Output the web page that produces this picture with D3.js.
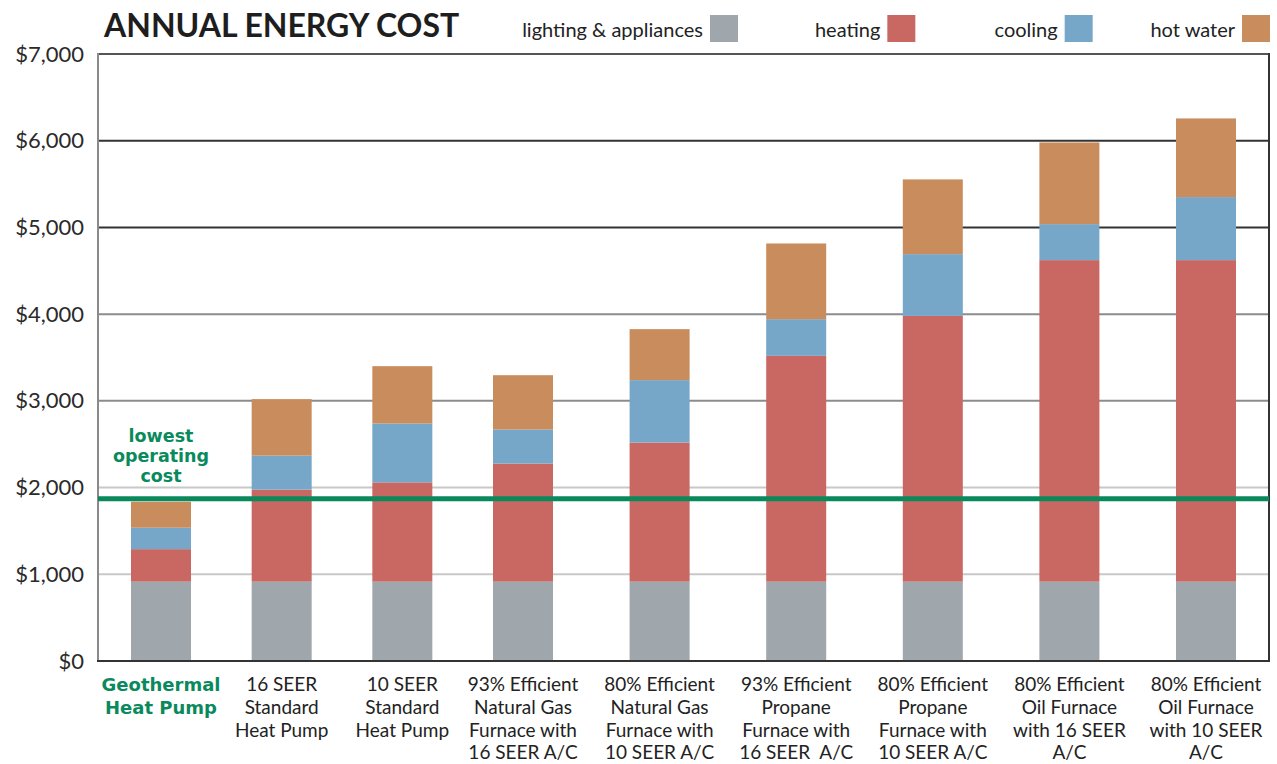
<!DOCTYPE html>
<html>
<head>
<meta charset="utf-8">
<script src="https://cdn.jsdelivr.net/npm/d3@7"></script>
<style>
  html, body { margin: 0; padding: 0; background: #fff; }
  svg { display: block; }
  text { white-space: pre; }
</style>
</head>
<body>
<svg id="chart" width="1277" height="764"></svg>
<script>
// ---- data ----
const categories = [
  "Geothermal Heat Pump",
  "16 SEER Standard Heat Pump",
  "10 SEER Standard Heat Pump",
  "93% Efficient Natural Gas Furnace with 16 SEER A/C",
  "80% Efficient Natural Gas Furnace with 10 SEER A/C",
  "93% Efficient Propane Furnace with 16 SEER A/C",
  "80% Efficient Propane Furnace with 10 SEER A/C",
  "80% Efficient Oil Furnace with 16 SEER A/C",
  "80% Efficient Oil Furnace with 10 SEER A/C"
];
const categoryLines = [
  ["Geothermal", "Heat Pump"],
  ["16 SEER", "Standard", "Heat Pump"],
  ["10 SEER", "Standard", "Heat Pump"],
  ["93% Efficient", "Natural Gas", "Furnace with", "16 SEER A/C"],
  ["80% Efficient", "Natural Gas", "Furnace with", "10 SEER A/C"],
  ["93% Efficient", "Propane", "Furnace with", "16 SEER  A/C"],
  ["80% Efficient", "Propane", "Furnace with", "10 SEER A/C"],
  ["80% Efficient", "Oil Furnace", "with 16 SEER", "A/C"],
  ["80% Efficient", "Oil Furnace", "with 10 SEER", "A/C"]
];
const seriesNames = ["lighting & appliances", "heating", "cooling", "hot water"];
const lighting  = [915, 915, 915, 915, 915, 915, 915, 915, 915];
const heating   = [375, 1061, 1145, 1362, 1604, 2604, 3065, 3708, 3708];
const cooling   = [247, 392, 679, 393, 720, 423, 712, 415, 727];
const hotWater  = [300, 652, 661, 626, 588, 873, 862, 942, 907];
const yTicks = [0, 1000, 2000, 3000, 4000, 5000, 6000, 7000];
const lowestCost = 1870;
const title = "ANNUAL ENERGY COST";
const noteLines = ["lowest", "operating", "cost"];

// ---- style ----
const colors = ["#9fa6ac", "#c96862", "#76a6c8", "#c98d5d"];
const gridColors = ["#333", "#c8c8c8", "#c8c8c8", "#8c8c8c", "#8c8c8c", "#333", "#333", "#555"];
const green = "#0a8a5c";
const F = "Lato, 'Open Sans', sans-serif";

const svg = d3.select("#chart");
const pL = 98, pR = 1269, pT = 54, pB = 661;

const y = d3.scaleLinear().domain([0, 7000]).range([pB, pT]);
// piecewise-linear position scale for category slots (labels have uneven widths)
const xIdx = d3.scaleLinear().domain([0, 3, 8]).range([161, 523, 1206]);
const barW = 60;

const rows = categories.map((c, i) => ({
  cat: c, i,
  "lighting & appliances": lighting[i],
  "heating": heating[i],
  "cooling": cooling[i],
  "hot water": hotWater[i]
}));
const stack = d3.stack().keys(seriesNames)(rows);

// gridlines
svg.append("g").selectAll("line")
  .data(yTicks.filter(t => t > 0))
  .join("line")
  .attr("x1", pL).attr("x2", pR)
  .attr("y1", d => y(d)).attr("y2", d => y(d))
  .attr("stroke", (d) => gridColors[yTicks.indexOf(d)])
  .attr("stroke-width", 2);

// bars
svg.append("g").selectAll("g")
  .data(stack)
  .join("g")
  .attr("fill", (d, k) => colors[k])
  .selectAll("rect")
  .data(d => d)
  .join("rect")
  .attr("x", d => xIdx(d.data.i) - barW / 2)
  .attr("width", barW)
  .attr("y", d => y(d[1]))
  .attr("height", d => y(d[0]) - y(d[1]));

// frame: left axis, right border, bottom axis
svg.append("line").attr("x1", pL).attr("x2", pL).attr("y1", pT - 1).attr("y2", pB + 1)
  .attr("stroke", "#8a8a8a").attr("stroke-width", 2);
svg.append("line").attr("x1", pR).attr("x2", pR).attr("y1", pT - 1).attr("y2", pB + 1)
  .attr("stroke", "#333").attr("stroke-width", 2);
svg.append("line").attr("x1", pL - 1).attr("x2", pR + 1).attr("y1", pB).attr("y2", pB)
  .attr("stroke", "#333").attr("stroke-width", 2);

// y axis labels
const yAxis = d3.axisLeft(y).tickValues(yTicks).tickFormat(d3.format("$,")).tickSize(0).tickPadding(14);
const ya = svg.append("g").attr("transform", `translate(${pL},0)`).call(yAxis);
ya.select(".domain").remove();
ya.selectAll("text").attr("font-family", F).attr("font-size", 22).attr("fill", "#2a2a2a");

// lowest operating cost line
svg.append("line")
  .attr("x1", pL).attr("x2", pR)
  .attr("y1", y(lowestCost)).attr("y2", y(lowestCost))
  .attr("stroke", green).attr("stroke-width", 5);

svg.append("text")
  .attr("font-family", "'DejaVu Sans', sans-serif").attr("font-weight", "bold")
  .attr("font-size", 17.5).attr("fill", green).attr("text-anchor", "middle")
  .selectAll("tspan").data(noteLines).join("tspan")
  .attr("x", xIdx(0)).attr("y", (d, j) => y(lowestCost) - 57 + j * 20)
  .text(d => d);

// x labels
const xl = svg.append("g");
categoryLines.forEach((lines, i) => {
  const t = xl.append("text")
    .attr("text-anchor", "middle")
    .attr("font-family", i === 0 ? "'DejaVu Sans', sans-serif" : F)
    .attr("font-weight", i === 0 ? "bold" : "normal")
    .attr("font-size", i === 0 ? 18 : 19)
    .attr("fill", i === 0 ? green : "#222");
  t.selectAll("tspan").data(lines).join("tspan")
    .attr("x", xIdx(i)).attr("y", (d, j) => 691 + j * 22.8)
    .text(d => d);
});

// title
svg.append("text").attr("x", 104).attr("y", 37)
  .attr("font-family", F).attr("font-weight", "bold").attr("font-size", 32)
  .attr("fill", "#1e1e1e").text(title);

// legend
const lg = d3.scalePoint().domain(seriesNames).range([724, 1256]);
const li = svg.append("g").selectAll("g").data(seriesNames).join("g")
  .attr("transform", d => `translate(${lg(d)},0)`);
li.append("rect").attr("x", -14).attr("y", 15).attr("width", 28).attr("height", 27)
  .attr("fill", (d, k) => colors[k]);
li.append("text").attr("x", -21).attr("y", 37).attr("text-anchor", "end")
  .attr("font-family", F).attr("font-size", 20).attr("fill", "#222").text(d => d);
</script>
</body>
</html>
